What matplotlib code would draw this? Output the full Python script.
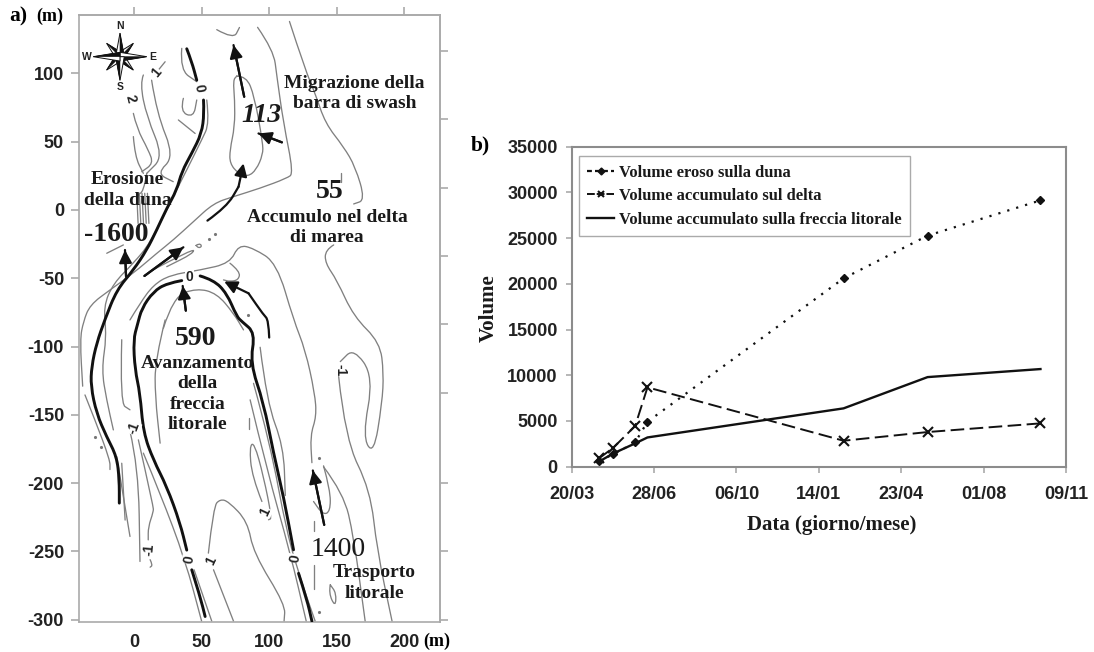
import matplotlib
matplotlib.use("Agg")
import matplotlib.pyplot as plt
from matplotlib.path import Path
from matplotlib.patches import PathPatch

plt.rcParams["axes.unicode_minus"] = False

W, H = 1094, 652
SERIF = "Liberation Serif"
SANS = "Liberation Sans"

# MAP (a) - coordinates in metres
thick_contours = [
    [(39, 118), (42.7, 108.5), (46.4, 95)],
    [(51.4, 80.5), (51.9, 70.7), (50, 56), (42.7, 41.5), (35.3, 28), (31.6, 14.6), (24.2, 1.2),
     (16.8, -14.6), (9.4, -29.3), (-0.5, -44), (-12.8, -58.5), (-21.5, -80), (-27.7, -97.6),
     (-31.4, -114.6), (-32, -129), (-27.7, -149), (-20.3, -166), (-12.8, -180.5), (-10.9, -197.6),
     (-10.9, -214.6)],
    [(35.3, -51.7), (24.2, -53.7), (14.3, -59.8), (5.7, -72), (2.5, -84), (-0.5, -95), (0.7, -117),
     (4.4, -134), (6.9, -163), (14.3, -183), (24.2, -202.4), (34, -229), (39, -249)],
    [(42.7, -263.4), (48.9, -283), (52.6, -297.6)],
    [(48.9, -48.3), (58.8, -51.2), (68.6, -61), (76, -78), (79.8, -81.7), (89.6, -90), (85.9, -112),
     (95.8, -141), (103.2, -178), (110.6, -209.8), (118, -248.8)],
    [(121.7, -266), (128, -285.4), (131.6, -301)],
]

thin_contours = [
    [(115, 138), (126.7, 102.4), (134, 85.4), (141.5, 63.4), (155, 46.3), (163.7, 31.7), (171, 7.3),
     (162.5, 4.4)],
    [(147.7, -25.6), (141.5, -29.3), (141.5, -39), (150, -51.2), (162.5, -78), (182, -97),
     (184.7, -119.5), (183.5, -141.5), (177.3, -179.3), (169, -166), (177.3, -122), (162.5, -101.2),
     (152.6, -111)],
    [(151.4, -122), (156.3, -168), (174.8, -205), (179.8, -249), (190.9, -301)],
    [(140.2, -188), (155, -207.3), (162.5, -239), (171, -301)],
    [(153, 27.3), (153, 20.7)],
    [(91.4, 133.7), (103.2, 117), (105.7, 97.6), (110.6, 63.4), (118, 26.8), (113, 23.2), (93.3, 15.9),
     (73.6, 9.8), (58.8, 4.9), (44, -8.5), (29, -22), (16.8, -31.7), (-0.5, -46.3), (-17.8, -58.5),
     (-32.6, -69.5), (-37.5, -81.7), (-40, -95), (-38, -129)],
    [(-36.3, -135.4), (-28.9, -153.7), (-17.8, -183), (-17.8, -190)],
    [(53.8, 80.5), (55.8, 63.4), (50, 51.2), (39, 29.3), (29, 9.8), (11.9, -24.4), (-0.5, -39),
     (-15.3, -53.7), (-22.7, -70.7), (-20.3, -92.7), (-24, -117), (-20.3, -139), (-15.3, -161)],
    [(-9.1, -185.4), (-6.6, -227)],
    [(-12.8, -180.5), (-3, -239)],
    [(-9.1, -95), (-10.4, -141.5), (-3, -146.3)],
    [(-3, -162), (3.2, -188), (4.4, -257.3)],
    [(3.2, -168.3), (14.3, -217), (14.3, -221), (10.5, -232), (10.5, -241.5)],
    [(11.9, -256), (13.8, -260), (11.9, -261.5)],
    [(-3, -80.5), (4.4, -68.3), (14.3, -54.9), (26.7, -47.6), (48.9, -44), (71, -39), (77.3, -25.6),
     (88.4, -28), (105.7, -39), (118, -80.5), (126.7, -102.4), (133.7, -134), (135, -151), (130.4, -165),
     (131.6, -185)],
    [(11.9, -45), (44, -28), (44, -31.7), (24.2, -41.5)],
    [(45.9, -26), (48, -24.4), (50.4, -26.3), (48, -28), (45.9, -26)],
    [(71, -39), (78.5, -45), (77.3, -51.2), (71, -52.4), (66.2, -51.2)],
    [(21.7, -86.6), (29, -63.4), (46.4, -57.3), (61.2, -61), (73.6, -75.6), (81, -87.8)],
    [(23, -80.5), (15.6, -109.8), (15.6, -136.6), (19.3, -170.7)],
    [(6.9, -178), (19.3, -207.3), (37.8, -256), (50, -301)],
    [(44.4, -263.4), (57.5, -301)],
    [(55, -251.2), (58.8, -217), (63.7, -211.7), (69.9, -213.4), (84, -228), (88.4, -251.2),
     (111.9, -289), (111, -301)],
    [(58.8, -263.4), (73.6, -301)],
    [(85.9, -139), (98.3, -190.2), (115.6, -251.2), (127.4, -301)],
    [(88.4, -126.9), (100.7, -170.7), (113, -236.6), (124.2, -273.2), (134, -301)],
    [(93.3, -100.5), (98.3, -141), (110.6, -173), (111.9, -209)],
    [(84.7, -152.5), (84.7, -160.5)],
    [(94.6, -213.4), (87.2, -195), (85.4, -173.2), (88.9, -170.2), (95.8, -195), (102, -225.6), (99.5, -226.8)],
    [(132.8, -228), (132.8, -235)],
    [(132.8, -259.8), (132.8, -277.6)],
    [(145.2, -274.4), (144, -280.5), (148.9, -290.7), (149.6, -280.5), (145.2, -274.4)],
    [(140.2, -187.3), (145.2, -205), (145.2, -220.7), (139.8, -223.2), (132.8, -213.4)],
    [(61.2, 132), (73.6, 125), (78, 133.6)],
    [(76, 98), (83, 98), (89, 83.5), (95.3, 49), (95.3, 40.5), (90.4, 29.3), (84.2, 24.4), (77, 26.8),
     (70.9, 34), (70.9, 44), (74.5, 61), (74.5, 80.5), (73.3, 95), (76, 98)],
    [(35.3, 118.3), (34, 102.4), (46.4, 93.9)],
    [(36.5, 81.7), (34, 72), (44, 67.8), (46.4, 80.5)],
    [(32.8, 65.9), (45.2, 56)],
    [(23, 108.5), (18, 102.4)],
    [(6.9, 98.8), (4.4, 92.7), (9.4, 68.3), (21.7, 39), (9.4, 26.8)],
    [(13, 95), (16.8, 70.7), (29.9, 39), (16.8, 26.8), (29, 20.7)],
    [(-0.5, 70.7), (2, 59.8), (10.6, 43.9), (14.3, 34), (5.7, 28)],
    [(-0.5, 53.7), (0.7, 39), (6.9, 26.8)],
    [(9.4, 26.8), (6.9, 12.2), (2, 12.2), (3, -9.8)],
    [(3.9, 12.2), (5, -9.8)],
    [(5.9, 12.2), (7, -9.8)],
    [(7.9, 12.2), (9, -9.8)],
    [(9.9, 12.2), (11, -9.8)],
    [(-20.2, -31.7), (-7.9, -25.6)],
]

spot_x = [55.8, 60, 136.5, 137, -28.9, -24.7, 84]
spot_y = [-21.5, -17.8, -181.7, -294, -166, -173.2, -76.8]

arrows = [
    [(81.5, 82.9), (73.6, 120.7)],
    [(109.4, 49.5), (92.1, 56)],
    [(54.3, -7.8), (68.6, 2.4), (77.3, 17), (81, 34.1)],
    [(-5.9, -48.8), (-6.7, -29.3)],
    [(7.7, -48.3), (36.5, -27.3)],
    [(38.3, -73.7), (36, -55.6)],
    [(100, -93.4), (99.5, -80.5), (95.8, -76.8), (84.7, -61), (66.7, -52.4)],
    [(140.7, -230.5), (132.3, -190.7)],
]

contour_labels = [
    ("0", 48.4, 89, -80), ("1", 16.3, 100.7, 50), ("2", -2.5, 81.7, -75), ("0", 41, -49.3, 0),
    ("-1", -0.5, -159.8, 70), ("-1", 152.6, -117, -90), ("0", 40.7, -256, 80), ("0", 119.3, -255, 80),
    ("1", 56.8, -256.6, 65), ("1", 97, -220.7, 65), ("-1", 11.1, -248.8, 85),
]

map_notes = [
    ("Migrazione della\nbarra di swash", 163.2, 85.4, 14, "bold", "normal"),
    ("113", 94, 69.5, 20, "bold", "italic"),
    ("55", 144.7, 13.4, 20, "bold", "normal"),
    ("Accumulo nel delta\ndi marea", 142.7, -12.7, 14, "bold", "normal"),
    ("Erosione\ndella duna", -4.7, 14.6, 14, "bold", "normal"),
    ("-1600", -12.8, -17.8, 20, "bold", "normal"),
    ("590", 45.2, -93.9, 20, "bold", "normal"),
    ("Avanzamento\ndella\nfreccia\nlitorale", 46.9, -134.6, 14, "bold", "normal"),
    ("1400", 151.4, -248.3, 20, "normal", "normal"),
    ("Trasporto\nlitorale", 178, -273, 14, "bold", "normal"),
]

map_xticks = [0, 50, 100, 150, 200]
map_yticks = [100, 50, 0, -50, -100, -150, -200, -250, -300]
map_right_ticks = [116.6, 66.7, 16.3, -33.7, -83.5, -133.8, -200, -250, -300]

rose_center = (-10.4, 112.2)
rose_main = [(0, 17.3), (19.8, 0), (0, -17.3), (-19.8, 0)]
rose_diag = [(9.9, 9.8), (9.9, -9.8), (-9.9, -9.8), (-9.9, 9.8)]

# CHART (b)
days = [33, 50.5, 77, 92, 330, 432, 569]
vol_duna = [650, 1350, 2660, 4920, 20600, 25270, 29130]
vol_delta = [900, 2080, 4450, 8680, 2840, 3790, 4740]
vol_freccia = [550, 1450, 2550, 3200, 6380, 9800, 10680]
date_ticks = [0, 100, 200, 300, 400, 500, 600]
date_labels = ["20/03", "28/06", "06/10", "14/01", "23/04", "01/08", "09/11"]
vol_ticks = [0, 5000, 10000, 15000, 20000, 25000, 30000, 35000]


def axes_px(left, top, right, bottom):
    return [left / W, 1 - bottom / H, (right - left) / W, (bottom - top) / H]


def text_px(x, y, s, **kw):
    fig.text(x / W, 1 - y / H, s, ha="center", va="center", **kw)


def rounded_line(axis, pts, **kw):
    # corners are rounded by going through the segment midpoints
    verts = [pts[0]]
    codes = [Path.MOVETO]
    for a, b in zip(pts[1:-1], pts[2:]):
        verts += [a, ((a[0] + b[0]) / 2, (a[1] + b[1]) / 2)]
        codes += [Path.CURVE3, Path.CURVE3]
    verts.append(pts[-1])
    codes.append(Path.LINETO)
    axis.add_patch(PathPatch(Path(verts, codes), fill=False, capstyle="round", **kw))


def rose_arm(axis, c, arm, half_w):
    # outlined arm, one half of it black
    nx, ny = -arm[1], arm[0]
    size = (nx**2 + ny**2) ** 0.5
    nx, ny = nx / size * half_w, ny / size * half_w
    tip = (c[0] + arm[0], c[1] + arm[1])
    axis.fill([c[0] + nx, tip[0], c[0] - nx], [c[1] + ny, tip[1], c[1] - ny],
              facecolor="white", edgecolor="#111111", lw=0.7, zorder=5)
    axis.fill([c[0], tip[0], c[0] - nx], [c[1], tip[1], c[1] - ny],
              facecolor="#111111", edgecolor="#111111", lw=0.4, zorder=5)


fig = plt.figure(figsize=(W / 100, H / 100), dpi=100)

ax = fig.add_axes(axes_px(79.3, 15.3, 439.5, 621.7))
ax.set_xlim(-40.5, 226)
ax.set_ylim(-301.4, 142.5)

for line in thin_contours:
    rounded_line(ax, line, edgecolor="#808080", lw=0.95, zorder=2)
for line in thick_contours:
    rounded_line(ax, line, edgecolor="#111111", lw=2.1, zorder=3)
ax.plot(spot_x, spot_y, ls="none", marker=".", ms=2.5, color="#777777")

for line in arrows:
    rounded_line(ax, line[:-1] if len(line) > 2 else line, edgecolor="#111111", lw=1.6, zorder=4)
    ax.annotate("", xy=line[-1], xytext=line[-2], zorder=4,
                arrowprops=dict(arrowstyle="-|>", color="#111111", lw=1.6, mutation_scale=19,
                                shrinkA=0, shrinkB=0))

for s, x, y, rot in contour_labels:
    ax.text(x, y, s, rotation=rot, ha="center", va="center", fontsize=10, weight="bold", family=SANS,
            color="#222222", bbox=dict(facecolor="white", edgecolor="none", pad=0.2), zorder=5)

for s, x, y, size, weight, style in map_notes:
    ax.text(x, y, s, ha="center", va="center", fontsize=size, weight=weight, style=style,
            family=SERIF, color="#1a1a1a", linespacing=1.26, zorder=6)

# compass rose
for arm in rose_diag:
    rose_arm(ax, rose_center, arm, 3.2)
for arm in rose_main:
    rose_arm(ax, rose_center, arm, 3.2)
for s, dx, dy in [("N", 0, 22.5), ("S", 0, -22.5), ("E", 24.5, 0), ("W", -24.5, 0)]:
    ax.text(rose_center[0] + dx, rose_center[1] + dy, s, ha="center", va="center", fontsize=7.5,
            weight="bold", family=SANS, color="#222222")

ax.set_xticks(map_xticks)
ax.set_yticks(map_yticks)
ax.tick_params(axis="x", length=0, pad=8.5, labelsize=13, labelcolor="#222222")
ax.tick_params(axis="y", length=6, color="#aaaaaa", width=1.2, labelsize=13, labelcolor="#222222", pad=5)
for lab in ax.get_xticklabels() + ax.get_yticklabels():
    lab.set_family(SANS)
    lab.set_weight("bold")
top_ax = ax.secondary_xaxis("top")
top_ax.set_xticks(map_xticks, labels=[])
top_ax.tick_params(length=6, color="#aaaaaa", width=1.2)
right_ax = ax.secondary_yaxis("right")
right_ax.set_yticks(map_right_ticks, labels=[])
right_ax.tick_params(length=6, color="#aaaaaa", width=1.2)
for a in [ax, top_ax, right_ax]:
    for sp in a.spines.values():
        sp.set_color("#aaaaaa")
        sp.set_linewidth(1.2)

text_px(18, 16, "a)", fontsize=15.5, weight="bold", family=SERIF)
text_px(50, 16, "(m)", fontsize=13, weight="bold", family=SERIF)
text_px(437, 641, "(m)", fontsize=13, weight="bold", family=SERIF)

ax2 = fig.add_axes(axes_px(571.7, 146.7, 1066, 466.7))
ax2.plot(days, vol_duna, color="#111111", ls=(0, (1, 3.2)), lw=1.6, marker="D", ms=4,
         label="Volume eroso sulla duna")
ax2.plot(days, vol_delta, color="#111111", ls=(0, (7, 2.8)), lw=1.4, marker="x", ms=7, mew=1.5,
         label="Volume accumulato sul delta")
ax2.plot(days, vol_freccia, color="#111111", lw=1.7, label="Volume accumulato sulla freccia litorale")
ax2.set_xlim(0, 600)
ax2.set_ylim(0, 35000)
ax2.set_xticks(date_ticks, labels=date_labels)
ax2.set_yticks(vol_ticks)
ax2.tick_params(length=4, color="#aaaaaa", width=1.2, labelsize=13, labelcolor="#222222", pad=6)
ax2.tick_params(axis="x", pad=10)
for lab in ax2.get_xticklabels() + ax2.get_yticklabels():
    lab.set_family(SANS)
    lab.set_weight("bold")
for sp in ax2.spines.values():
    sp.set_color("#8c8c8c")
    sp.set_linewidth(1.5)

leg = ax2.legend(loc="upper left", bbox_to_anchor=((578.7 - 571.7) / 494.3, 1 - (156 - 146.7) / 320),
                 borderaxespad=0, fancybox=False, framealpha=1, edgecolor="#aaaaaa",
                 prop=dict(family=SERIF, weight="bold", size=11.9), labelspacing=0.46,
                 handlelength=1.6, handletextpad=0.32, borderpad=0.52)
leg.get_frame().set_linewidth(1.0)
for t in leg.get_texts():
    t.set_color("#1a1a1a")
# legend samples are short, so they get tighter dashes than the lines
handles = leg.get_lines()
handles[0].set_linestyle((0, (2.2, 1.4)))
handles[0].set_markersize(3.5)
handles[1].set_linestyle((0, (4, 1)))
handles[1].set_markersize(5)

text_px(480, 145, "b)", fontsize=15.5, weight="bold", family=SERIF)
text_px(489, 308, "Volume", fontsize=15, weight="bold", family=SERIF, rotation=90, color="#1a1a1a")
text_px(831.5, 525, "Data (giorno/mese)", fontsize=15, weight="bold", family=SERIF, color="#1a1a1a")

fig.savefig("out.png", dpi=100)
